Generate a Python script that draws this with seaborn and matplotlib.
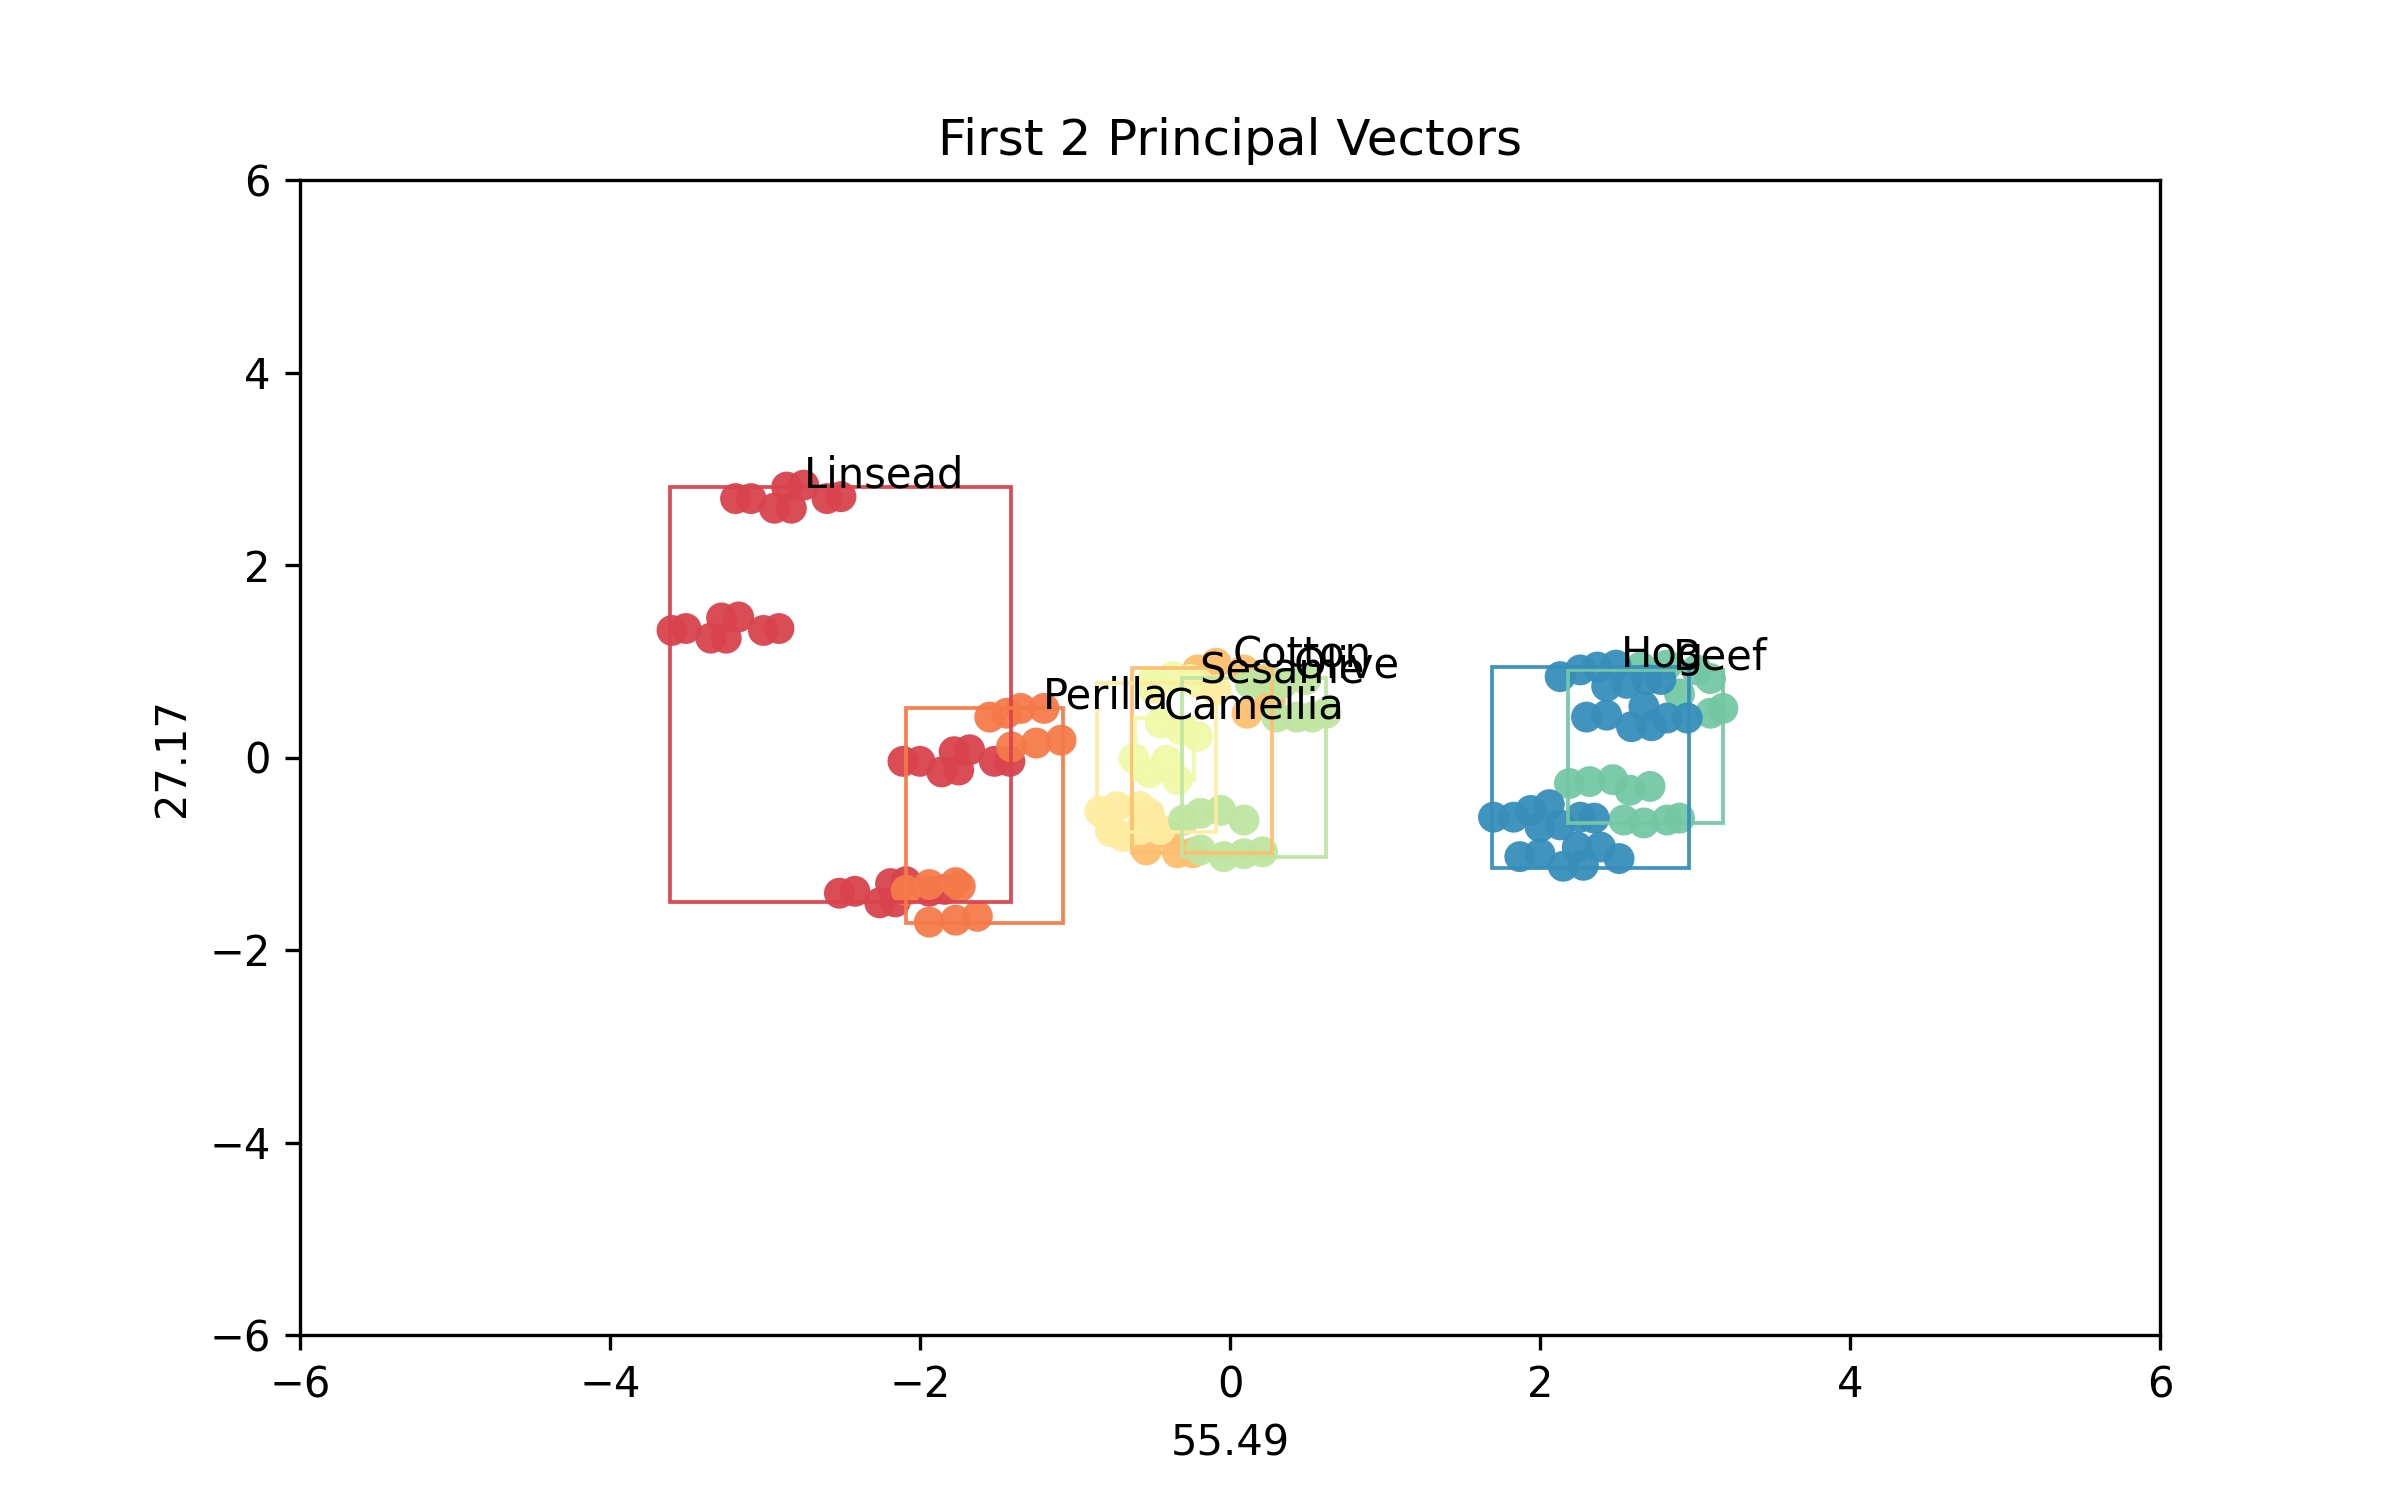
import matplotlib
matplotlib.use("Agg")
import matplotlib.pyplot as plt
import matplotlib.patches as patches
import seaborn as sns
import pandas as pd

oils = ["Linsead", "Perilla", "Cotton", "Sesame", "Camellia", "Olive", "Beef", "Hog"]
colors = sns.color_palette("Spectral", 8)

pts_x = {
    "Linsead": [-3.19, -3.09, -2.94, -2.83, -2.86, -2.75, -2.60, -2.51,
                -3.60, -3.51, -3.35, -3.25, -3.28, -3.17, -3.01, -2.91,
                -2.11, -2.00, -1.86, -1.75, -1.78, -1.68, -1.52, -1.42,
                -2.52, -2.42, -2.26, -2.16, -2.19, -2.09, -1.94, -1.84],
    "Perilla": [-1.55, -1.44, -1.35, -1.20, -1.41, -1.25, -1.09,
                -2.09, -1.94, -1.77, -1.74, -1.94, -1.77, -1.63],
    "Cotton": [-0.21, -0.09, 0.09, 0.17, 0.11, 0.26, -0.52, -0.41, -0.34, -0.24, -0.54],
    "Sesame": [-0.50, -0.20, -0.09, -0.84, -0.73, -0.58, -0.52, -0.77, -0.69, -0.58, -0.45],
    "Camellia": [-0.52, -0.37, -0.26, -0.45, -0.32, -0.21, -0.62, -0.52, -0.41, -0.34],
    "Olive": [0.13, 0.24, 0.34, 0.49, 0.43, 0.53, 0.62, 0.30,
              -0.30, -0.19, -0.06, 0.09, -0.19, -0.04, 0.09, 0.21],
    "Beef": [2.65, 2.82, 3.01, 3.10, 2.90, 3.10, 3.18,
             2.19, 2.32, 2.47, 2.58, 2.71, 2.54, 2.67, 2.82, 2.90],
    "Hog": [2.13, 2.26, 2.37, 2.49, 2.43, 2.56, 2.69, 2.78,
            2.30, 2.43, 2.59, 2.72, 2.67, 2.82, 2.95,
            1.70, 1.83, 1.94, 2.06, 2.00, 2.13, 2.26, 2.35,
            1.87, 2.00, 2.15, 2.28, 2.24, 2.39, 2.51],
}
pts_y = {
    "Linsead": [2.69, 2.69, 2.59, 2.59, 2.81, 2.83, 2.69, 2.71,
                1.32, 1.34, 1.24, 1.24, 1.45, 1.46, 1.32, 1.34,
                -0.04, -0.04, -0.15, -0.13, 0.06, 0.08, -0.04, -0.04,
                -1.41, -1.39, -1.51, -1.50, -1.31, -1.29, -1.39, -1.37],
    "Perilla": [0.42, 0.46, 0.51, 0.51, 0.11, 0.15, 0.18,
                -1.38, -1.32, -1.30, -1.34, -1.71, -1.69, -1.65],
    "Cotton": [0.91, 0.98, 0.91, 0.81, 0.46, 0.60, -0.62, -0.79, -0.99, -0.99, -0.96],
    "Sesame": [0.72, 0.77, 0.70, -0.56, -0.51, -0.51, -0.58, -0.77, -0.82, -0.75, -0.75],
    "Camellia": [0.77, 0.84, 0.81, 0.36, 0.29, 0.22, -0.01, -0.16, -0.03, -0.23],
    "Olive": [0.77, 0.82, 0.77, 0.81, 0.42, 0.42, 0.46, 0.42,
              -0.65, -0.58, -0.55, -0.65, -0.96, -1.03, -1.00, -0.98],
    "Beef": [0.94, 0.96, 0.91, 0.82, 0.66, 0.46, 0.51,
             -0.27, -0.25, -0.23, -0.34, -0.30, -0.65, -0.68, -0.65, -0.63],
    "Hog": [0.84, 0.91, 0.94, 0.96, 0.74, 0.77, 0.81, 0.81,
            0.42, 0.44, 0.32, 0.33, 0.53, 0.41, 0.41,
            -0.62, -0.62, -0.55, -0.49, -0.72, -0.70, -0.62, -0.63,
            -1.03, -1.00, -1.13, -1.12, -0.93, -0.93, -1.05],
}

# box bounds per oil: x_lo, x_hi, y_lo, y_hi
box_x_lo = [-3.61, -2.09, -0.63, -0.86, -0.61, -0.31, 2.18, 1.69]
box_x_hi = [-1.41, -1.08, 0.27, -0.09, -0.23, 0.62, 3.18, 2.96]
box_y_lo = [-1.50, -1.72, -0.99, -0.77, -0.23, -1.03, -0.68, -1.15]
box_y_hi = [2.81, 0.51, 0.93, 0.77, 0.41, 0.83, 0.91, 0.94]
label_x = [-2.75, -1.21, 0.02, -0.20, -0.43, 0.41, 2.86, 2.52]

rows = []
for oil in oils:
    for x, y in zip(pts_x[oil], pts_y[oil]):
        rows.append({"oil": oil, "x": x, "y": y})
df = pd.DataFrame(rows)

fig, ax = plt.subplots(figsize=(8, 5), dpi=300)
sns.scatterplot(data=df, x="x", y="y", hue="oil", hue_order=oils, palette=colors,
                s=55, linewidth=0, alpha=0.95, legend=False, ax=ax)
for i, oil in enumerate(oils):
    rect = patches.Rectangle((box_x_lo[i], box_y_lo[i]), box_x_hi[i] - box_x_lo[i],
                             box_y_hi[i] - box_y_lo[i], fill=False,
                             edgecolor=colors[i], linewidth=0.9, alpha=0.95)
    ax.add_patch(rect)
    ax.text(label_x[i], box_y_hi[i], oil, fontsize=10)

ax.set_xlim(-6, 6)
ax.set_ylim(-6, 6)
ax.set_title("First 2 Principal Vectors")
ax.set_xlabel("55.49")
ax.set_ylabel("27.17")
plt.savefig("out.png")
